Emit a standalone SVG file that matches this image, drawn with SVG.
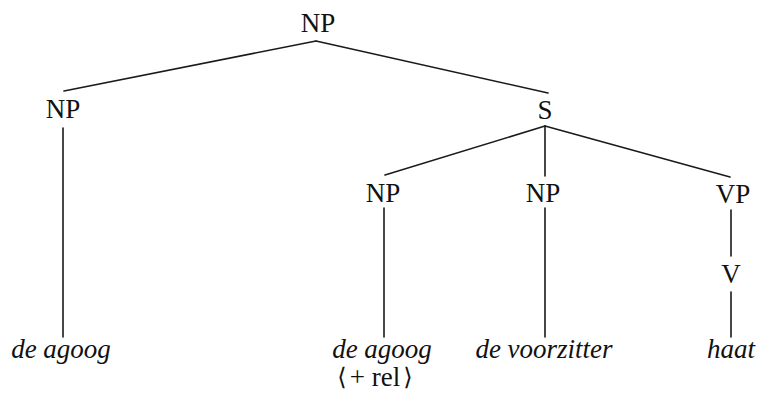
<svg xmlns="http://www.w3.org/2000/svg" width="760" height="396" viewBox="0 0 760 396">
  <style>
    .cat { font-family: "Liberation Serif", "DejaVu Serif", serif; font-size: 27px; fill: #111; text-anchor: middle; }
    .word { font-family: "Liberation Serif", "DejaVu Serif", serif; font-size: 27px; font-style: italic; fill: #111; text-anchor: middle; }
    .feat { font-family: "Liberation Serif", serif; font-size: 27px; fill: #111; text-anchor: middle; }
    .br { font-family: "DejaVu Serif", serif; font-size: 24px; fill: #111; text-anchor: middle; }
    .edge { stroke: #1a1a1a; stroke-width: 1.6; fill: none; stroke-linecap: round; }
  </style>
  <rect width="760" height="396" fill="#ffffff"/>

  <g id="connectors">
    <!-- root NP -->
    <line class="edge" x1="316" y1="41" x2="64" y2="91"/>
    <line class="edge" x1="316" y1="41" x2="548" y2="93"/>
    <!-- left NP to its word -->
    <line class="edge" x1="63" y1="128" x2="63" y2="337"/>
    <!-- S daughters -->
    <line class="edge" x1="545" y1="126" x2="385" y2="175"/>
    <line class="edge" x1="545" y1="126" x2="545" y2="176"/>
    <line class="edge" x1="545" y1="126" x2="730" y2="177"/>
    <!-- NP / NP / VP down -->
    <line class="edge" x1="384" y1="208" x2="384" y2="337"/>
    <line class="edge" x1="545" y1="208" x2="545" y2="337"/>
    <line class="edge" x1="731" y1="210" x2="731" y2="256"/>
    <line class="edge" x1="731" y1="292" x2="731" y2="337"/>
  </g>

  <g id="np-root"><text class="cat" x="318" y="32">NP</text></g>
  <g id="np-left"><text class="cat" x="63" y="118">NP</text></g>
  <g id="s"><text class="cat" x="545" y="119">S</text></g>
  <g id="np-rel"><text class="cat" x="383" y="202">NP</text></g>
  <g id="np-subj"><text class="cat" x="543" y="202">NP</text></g>
  <g id="vp"><text class="cat" x="733" y="203">VP</text></g>
  <g id="v"><text class="cat" x="731" y="283">V</text></g>

  <g id="w-de-agoog-1"><text class="word" x="61" y="358">de agoog</text></g>
  <g id="w-de-agoog-2">
    <text class="word" x="382" y="358">de agoog</text>
    <!-- feature mark: angle brackets set apart so the label keeps the serif face -->
    <text class="br" x="342" y="385">⟨</text>
    <text class="feat" x="375" y="386">+ rel</text>
    <text class="br" x="408" y="385">⟩</text>
  </g>
  <g id="w-de-voorzitter"><text class="word" x="544" y="358">de voorzitter</text></g>
  <g id="w-haat"><text class="word" x="731" y="358">haat</text></g>
</svg>
